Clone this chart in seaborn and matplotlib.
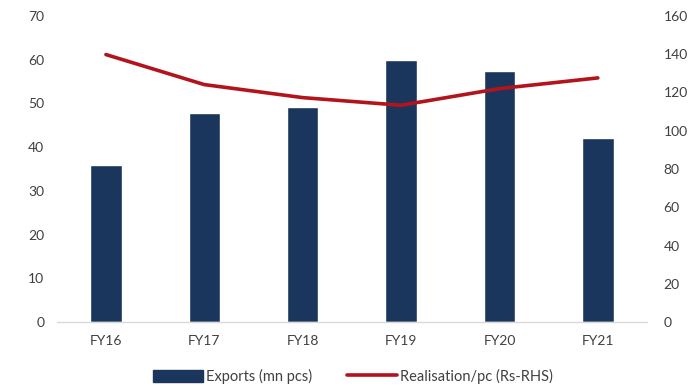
import matplotlib
matplotlib.use("Agg")
import matplotlib.pyplot as plt
import seaborn as sns
import numpy as np
import pandas as pd
from matplotlib.patches import Patch
from matplotlib.lines import Line2D

categories = ["FY16", "FY17", "FY18", "FY19", "FY20", "FY21"]
exports = [36.0, 47.7, 49.1, 59.9, 57.5, 42.0]
realisation = [139.8, 124.1, 117.3, 113.3, 122.0, 127.6]
left_ticks = [0, 10, 20, 30, 40, 50, 60, 70]
right_ticks = [0, 20, 40, 60, 80, 100, 120, 140, 160]

sns.set_theme(style="white")
plt.rcParams['font.family'] = ['Lato', 'DejaVu Sans']

bar_color = "#1B365D"
line_color = "#B3141B"
text_color = "#404040"

fig = plt.figure(figsize=(6.92, 3.88), dpi=100)
ax = fig.add_axes([0.082, 0.170, 0.853, 0.789])

df = pd.DataFrame({"cat": categories, "exports": exports})
sns.barplot(data=df, x="cat", y="exports", color=bar_color, width=0.32,
            saturation=1, ax=ax)
ax.set_ylim(0, 70)
ax.set_yticks(left_ticks)
ax.set_xlim(-0.5, len(categories) - 0.5)
ax.set_xlabel("")
ax.set_ylabel("")

ax2 = ax.twinx()
sns.lineplot(x=np.arange(len(categories)), y=realisation, color=line_color,
             linewidth=2.6, ax=ax2)
ax2.set_ylim(0, 160)
ax2.set_yticks(right_ticks)
ax2.set_xlim(-0.5, len(categories) - 0.5)

for a in (ax, ax2):
    for s in ("top", "left", "right"):
        a.spines[s].set_visible(False)
    a.spines["bottom"].set_visible(False)
    a.tick_params(axis="both", length=0, labelsize=10, colors=text_color)
    a.grid(False)

ax.spines["bottom"].set_visible(True)
ax.spines["bottom"].set_color("#D9D9D9")
ax.spines["bottom"].set_linewidth(1.0)
ax.tick_params(axis="y", pad=9)
ax.tick_params(axis="x", pad=9)
ax2.tick_params(axis="y", pad=12)
for lbl in ax2.get_yticklabels():
    lbl.set_horizontalalignment("left")

handles = [Patch(facecolor=bar_color, edgecolor=bar_color),
           Line2D([0], [0], color=line_color, linewidth=2.6)]
labels = ["Exports (mn pcs)", "Realisation/pc (Rs-RHS)"]
fig.legend(handles, labels, loc="center", bbox_to_anchor=(0.51, 0.03),
           ncol=2, frameon=False, fontsize=10.5, handlelength=3.4,
           handleheight=0.9, handletextpad=0.2, columnspacing=2.4,
           labelcolor=text_color)

fig.savefig("out.png", dpi=100)
